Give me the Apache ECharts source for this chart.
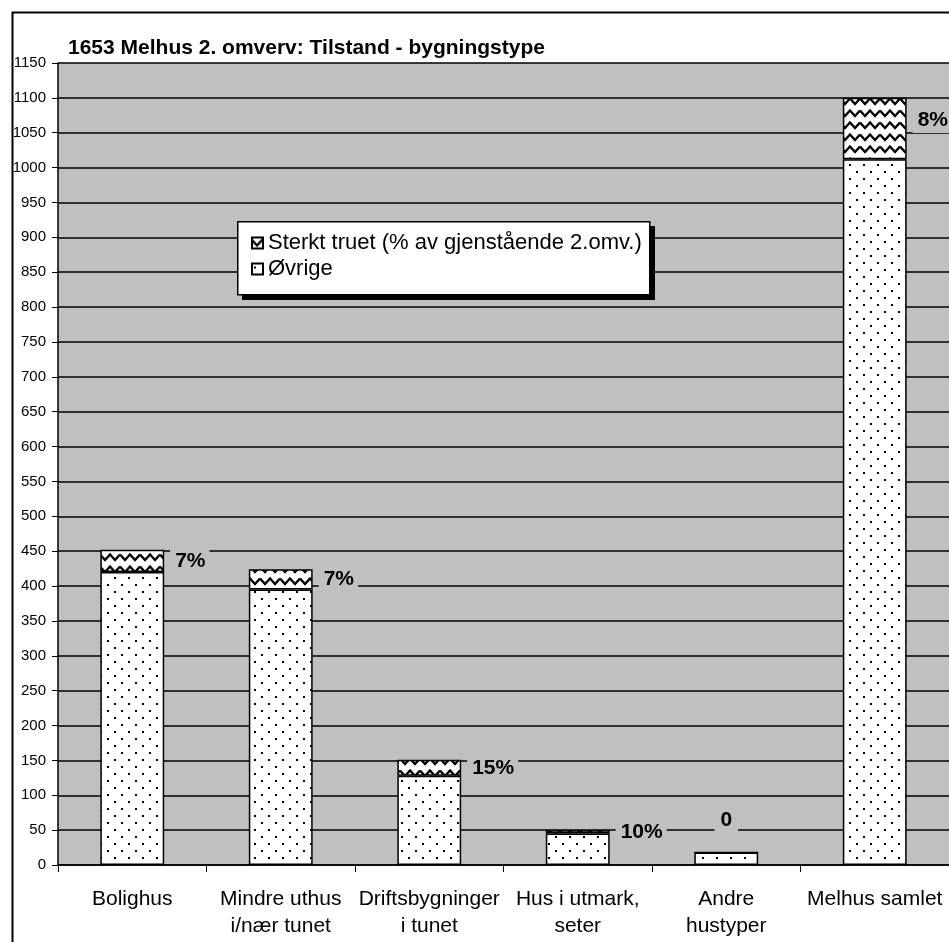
<!DOCTYPE html>
<html>
<head>
<meta charset="utf-8">
<script src="https://cdn.jsdelivr.net/npm/echarts@6/dist/echarts.min.js"></script>
<style>html,body{margin:0;padding:0;background:#fff;}#c{width:949px;height:942px;}</style>
</head>
<body>
<div id="c"></div>
<script>
const categories = ["Bolighus", "Mindre uthus\ni/nær tunet", "Driftsbygninger\ni tunet", "Hus i utmark,\nseter", "Andre\nhustyper", "Melhus samlet"];
const ovrige = [420, 395, 128, 45, 18, 1012];
const sterktTruet = [32, 29, 23, 5, 0, 88];
const pctLabels = ["7%", "7%", "15%", "10%", "0", "8%"];
const yTicks = { min: 0, max: 1150, interval: 50 };
const seriesNames = ["Sterkt truet (% av gjenstående 2.omv.)", "Øvrige"];

const FONT = 'Liberation Sans, Arial, sans-serif';

function dotPattern() {
  const c = document.createElement('canvas');
  c.width = 14; c.height = 14;
  const g = c.getContext('2d');
  g.fillStyle = '#fff'; g.fillRect(0, 0, 14, 14);
  g.fillStyle = '#000';
  g.fillRect(2, 3, 2, 2);
  g.fillRect(9, 10, 2, 2);
  return c;
}
function wavePattern() {
  const c = document.createElement('canvas');
  c.width = 20; c.height = 12;
  const g = c.getContext('2d');
  g.fillStyle = '#fff'; g.fillRect(0, 0, 20, 12);
  g.strokeStyle = '#000'; g.lineWidth = 2.4;
  g.beginPath();
  g.moveTo(0, 2.5); g.lineTo(5, 8); g.lineTo(10, 2.5); g.lineTo(15, 8); g.lineTo(20, 2.5);
  g.stroke();
  return c;
}

const chart = echarts.init(document.getElementById('c'), null, { renderer: 'canvas' });
const dotFill = { image: dotPattern(), repeat: 'repeat' };
const waveFill = { image: wavePattern(), repeat: 'repeat' };

const labelData = sterktTruet.map((v, i) => {
  const item = { value: v };
  if (i === 4) item.label = { position: 'top', distance: 14, padding: [1, 6, 7, 6] };
  if (i === 5) item.label = { offset: [0, -8] };
  return item;
});

chart.setOption({
  animation: false,
  backgroundColor: '#fff',
  textStyle: { fontFamily: FONT },
  title: {
    text: '1653 Melhus 2. omverv: Tilstand - bygningstype',
    left: 63, top: 33,
    textStyle: { fontSize: 21, fontWeight: 'bold', color: '#000', fontFamily: FONT }
  },
  graphic: [
    {
      type: 'rect', left: 10, top: 10, z: -1, silent: true,
      shape: { x: 0, y: 0, width: 1000, height: 1000 },
      style: { fill: 'none', stroke: '#000', lineWidth: 2 }
    },
    {
      type: 'rect', left: 242, top: 226, z: 10, silent: true,
      shape: { x: 0, y: 0, width: 413, height: 74 },
      style: { fill: '#000' }
    },
    {
      type: 'rect', left: 237, top: 221, z: 11, silent: true,
      shape: { x: 0, y: 0, width: 412, height: 73 },
      style: { fill: '#fff', stroke: '#000', lineWidth: 1.5 }
    }
  ],
  legend: {
    orient: 'vertical',
    left: 251, top: 232,
    padding: 0,
    itemGap: 4,
    itemWidth: 11, itemHeight: 11,
    icon: 'rect',
    z: 20,
    data: seriesNames,
    textStyle: { fontSize: 22, lineHeight: 22, color: '#000', fontFamily: FONT }
  },
  grid: { left: 58, right: -3, top: 63, bottom: 77, show: true, backgroundColor: '#c0c0c0', borderWidth: 0 },
  xAxis: {
    type: 'category',
    data: categories,
    axisLine: { lineStyle: { color: '#000', width: 1.5 } },
    axisTick: { show: true, length: 7, lineStyle: { color: '#000', width: 1 } },
    axisLabel: { color: '#000', fontSize: 21, lineHeight: 27, margin: 21, interval: 0, fontFamily: FONT }
  },
  yAxis: {
    type: 'value',
    min: yTicks.min, max: yTicks.max, interval: yTicks.interval,
    axisLine: { show: true, lineStyle: { color: '#000', width: 1.5 } },
    axisTick: { show: true, length: 6, lineStyle: { color: '#000' } },
    axisLabel: { color: '#000', fontSize: 15, margin: 12, fontFamily: FONT, formatter: v => String(v) },
    splitLine: { show: true, lineStyle: { color: '#000', width: 1.5 } }
  },
  series: [
    {
      name: seriesNames[1], type: 'bar', stack: 'tot', barWidth: '43%',
      data: ovrige,
      itemStyle: { color: dotFill, borderColor: '#000', borderWidth: 1.5 }
    },
    {
      name: seriesNames[0], type: 'bar', stack: 'tot', barWidth: '43%',
      data: labelData,
      itemStyle: { color: waveFill, borderColor: '#000', borderWidth: 1.5 },
      label: {
        show: true, position: 'right', distance: 6,
        formatter: p => pctLabels[p.dataIndex],
        fontSize: 21, fontWeight: 'bold', color: '#000',
        backgroundColor: '#c0c0c0', padding: [2, 4, 2, 5],
        fontFamily: FONT
      }
    }
  ]
});
</script>
</body>
</html>
